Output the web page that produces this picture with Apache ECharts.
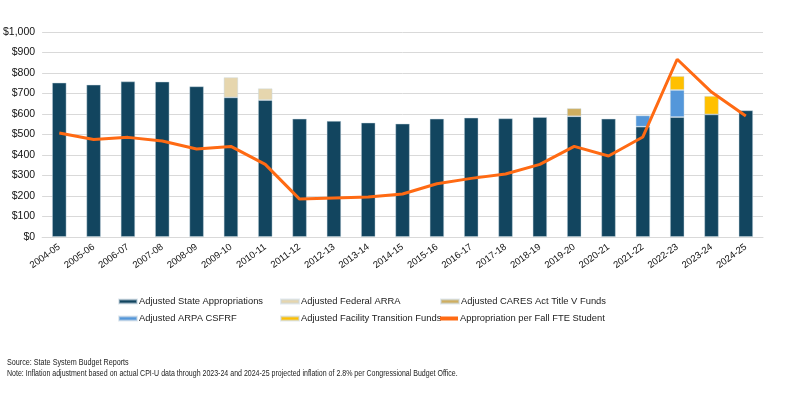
<!DOCTYPE html>
<html><head><meta charset="utf-8">
<script src="https://cdn.jsdelivr.net/npm/echarts@6/dist/echarts.min.js"></script>
<style>html,body{margin:0;padding:0;background:#fff}#c{width:800px;height:395px}</style>
</head><body><div id="c"></div>
<script>
const categories = ['2004-05','2005-06','2006-07','2007-08','2008-09','2009-10','2010-11','2011-12','2012-13','2013-14','2014-15','2015-16','2016-17','2017-18','2018-19','2019-20','2020-21','2021-22','2022-23','2023-24','2024-25'];
const stateApprop = [753,743,759,758,735,681,668,577,566,558,553,577,582,579,585,589,577,538,585,598,618];
const federalARRA = [null,null,null,null,null,98,57,null,null,null,null,null,null,null,null,null,null,null,null,null,null];
const caresTitleV = [null,null,null,null,null,null,null,null,null,null,null,null,null,null,null,39,null,null,null,null,null];
const arpaCSFRF = [null,null,null,null,null,null,null,null,null,null,null,null,null,null,null,null,null,55,132,null,null];
const facilityTransition = [null,null,null,null,null,null,null,null,null,null,null,null,null,null,null,null,null,null,68,90,null];
const perFTE = [507,476,486,468,429,442,354,185,190,195,210,260,286,307,354,442,395,488,867,707,590];
const yTicks = {min:0, max:1000, interval:100};

const names = ['Adjusted State Appropriations','Adjusted Federal ARRA','Adjusted CARES Act Title V Funds','Adjusted ARPA CSFRF','Adjusted Facility Transition Funds','Appropriation per Fall FTE Student'];
const colors = ['#12455F','#E6D6AE','#CFAE60','#5497DA','#FFC000','#FF6A13'];
const barData = [stateApprop, federalARRA, caresTitleV, arpaCSFRF, facilityTransition];
const F = '"Liberation Sans", Arial, sans-serif';

const series = barData.map((d,i)=>({
  name:names[i], type:'bar', stack:'a', data:d, barWidth:'42%',
  itemStyle:{color:colors[i], borderColor:'rgba(200,215,225,0.55)', borderWidth:0.8},
  emphasis:{disabled:true}
}));
series.push({name:names[5], type:'line', data:perFTE, symbol:'none', z:5,
  lineStyle:{color:colors[5], width:3}, itemStyle:{color:colors[5]}});

const legPos = [[118,297],[280,297],[440,297],[118,314],[280,314],[440,314]];
const legends = names.map((n,i)=>({
  data:[{name:n, icon:'rect'}], left:legPos[i][0], top:legPos[i][1],
  itemWidth:18, itemHeight:4, itemGap:2, padding:0, selectedMode:false,
  textStyle:{fontFamily:F, fontSize:9.4, color:'#222', padding:[0,0,0,-3]}
}));

const chart = echarts.init(document.getElementById('c'), null, {renderer:'canvas'});
chart.setOption({
  animation:false,
  color:colors,
  grid:{left:40, right:37, top:32, bottom:158},
  legend:legends,
  graphic:[
    {type:'text', left:7, top:358, scaleX:0.8, style:{text:'Source: State System Budget Reports', font:'9px '+F, fill:'#222'}},
    {type:'text', left:7, top:369, scaleX:0.78, style:{text:'Note: Inflation adjustment based on actual CPI-U data through 2023-24 and 2024-25 projected inflation of 2.8% per Congressional Budget Office.', font:'9px '+F, fill:'#222'}}
  ],
  xAxis:{type:'category', data:categories,
    axisLine:{lineStyle:{color:'#d9d9d9'}}, axisTick:{show:false},
    axisLabel:{rotate:36, interval:0, fontFamily:F, fontSize:9.5, color:'#111', margin:9}},
  yAxis:{type:'value', min:yTicks.min, max:yTicks.max, interval:yTicks.interval,
    axisLine:{show:false}, axisTick:{show:false},
    splitLine:{lineStyle:{color:'#d9d9d9', width:1}},
    axisLabel:{fontFamily:F, fontSize:10.5, color:'#111', margin:7,
      formatter:v=>'$'+v.toLocaleString('en-US')}},
  series:series
});
</script></body></html>
